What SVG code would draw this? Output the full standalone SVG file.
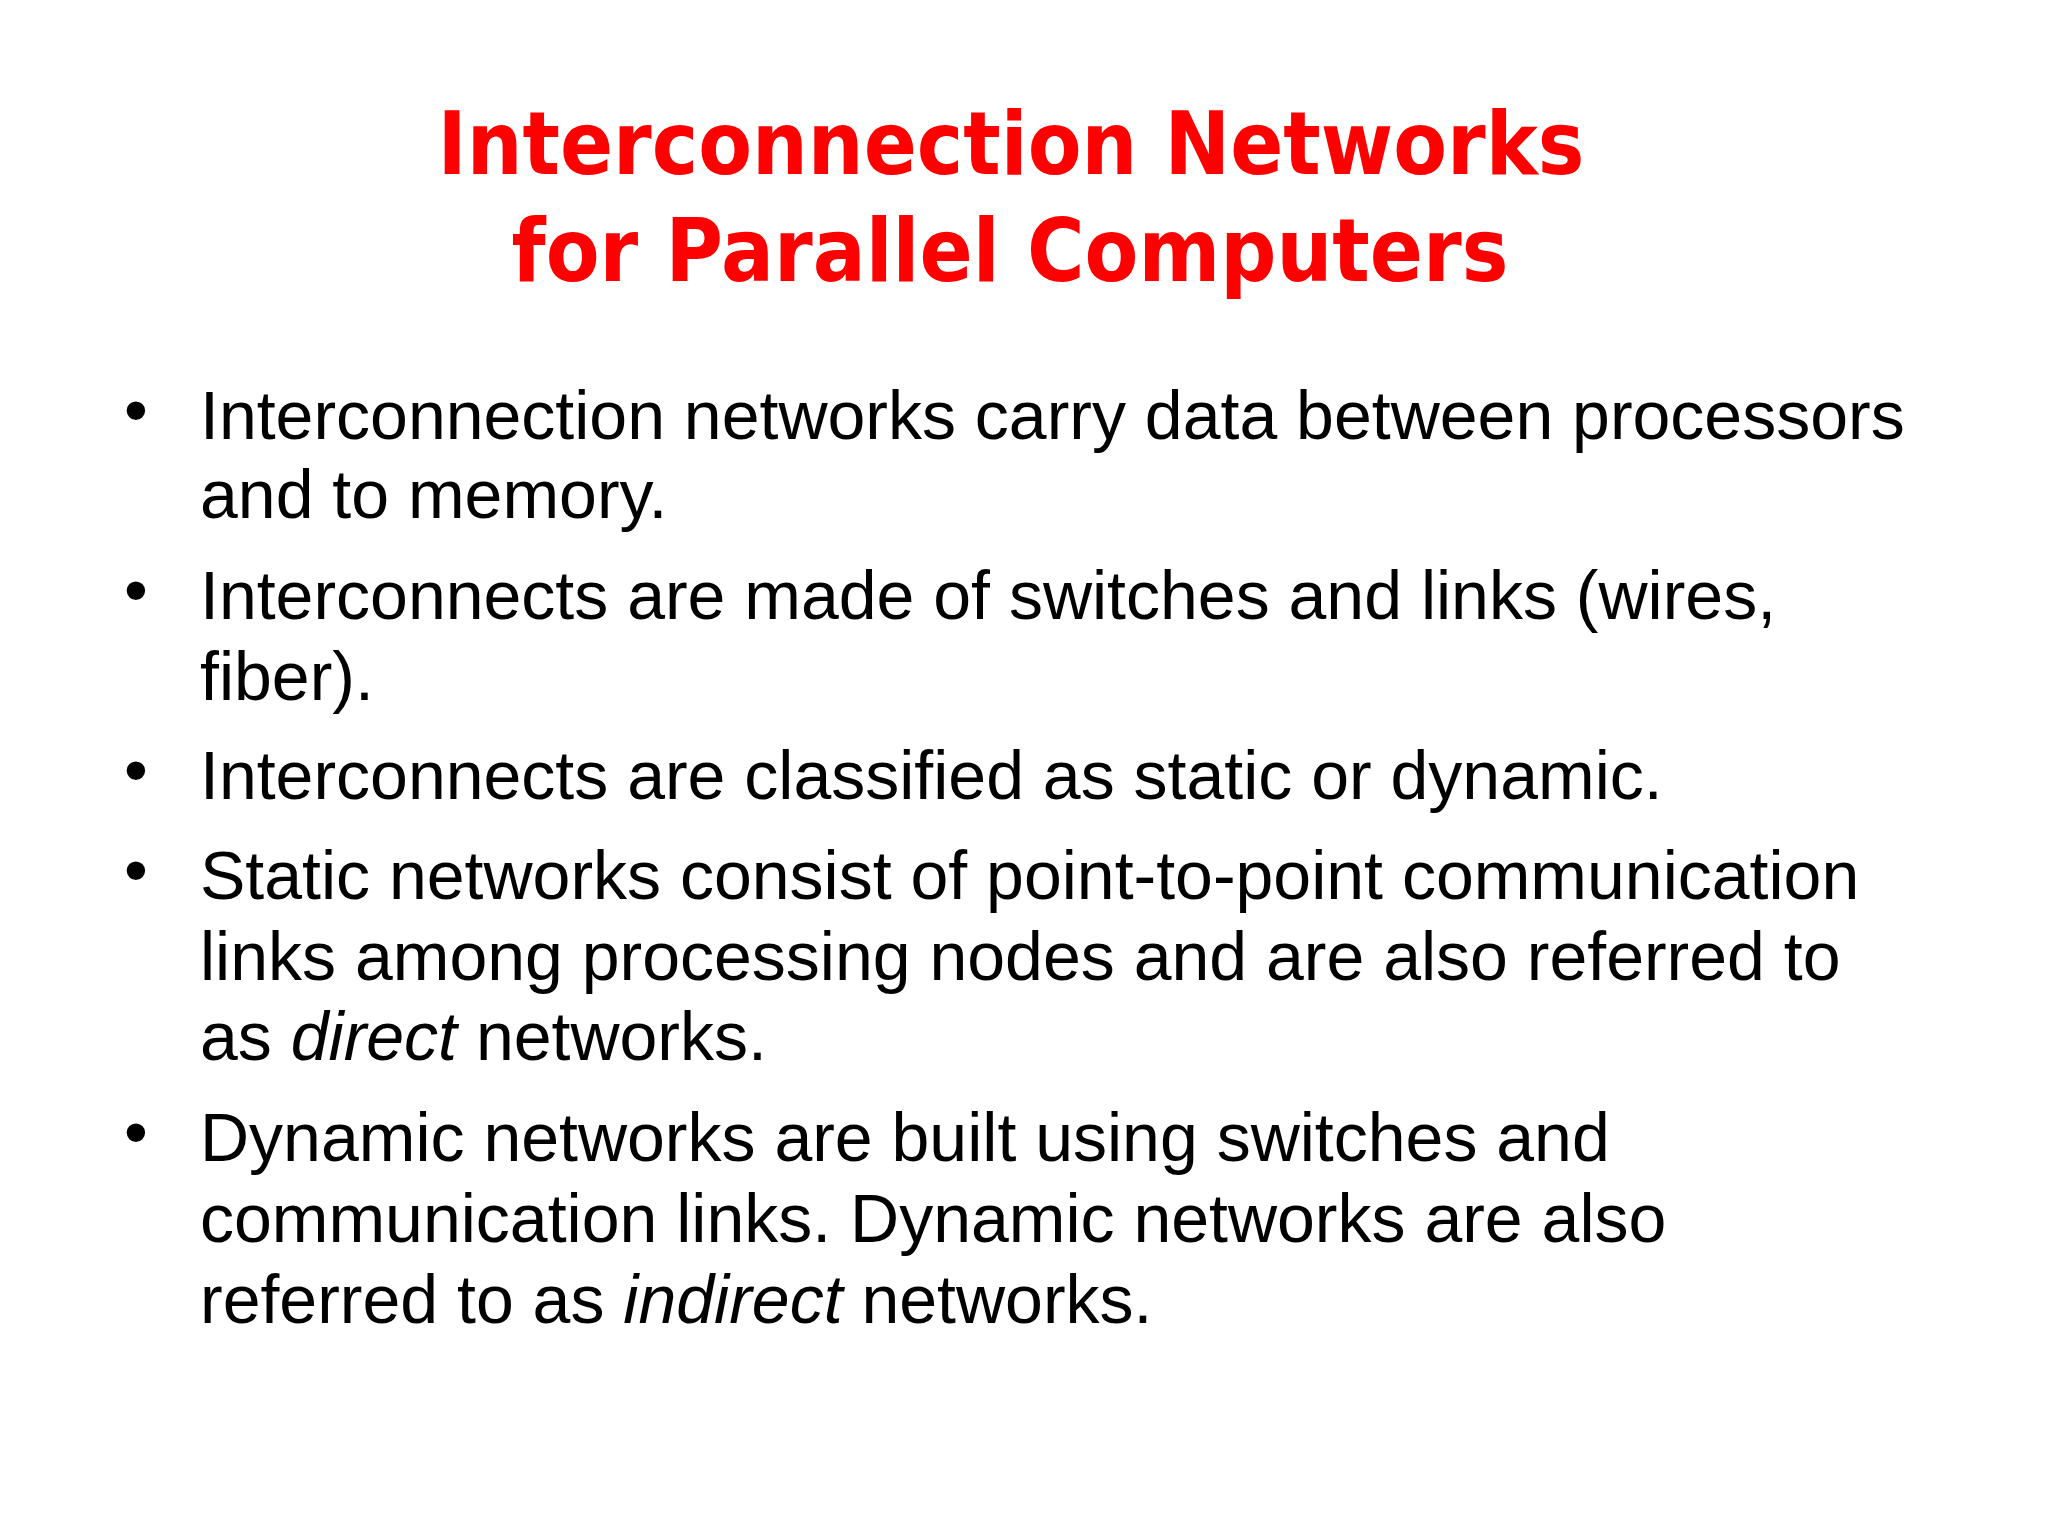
<svg xmlns="http://www.w3.org/2000/svg" width="2048" height="1536" viewBox="0 0 2048 1536">
<style>
.t{font-family:"DejaVu Sans",Verdana,sans-serif;font-weight:bold;fill:#ff0000;font-size:88px;text-anchor:middle}
.b{font-family:"Liberation Sans",Arial,sans-serif;font-size:68px;fill:#000}
</style>
<rect width="2048" height="1536" fill="#fff"/>
<g id="title">
<text class="t" x="1011" y="174" textLength="1147" lengthAdjust="spacingAndGlyphs">Interconnection Networks</text>
<text class="t" x="1010" y="281" textLength="997" lengthAdjust="spacingAndGlyphs">for Parallel Computers</text>
</g>
<g id="bullets" class="b">
<text x="124" y="433">•</text>
<text x="200" y="439">Interconnection networks carry data between processors</text>
<text x="200" y="518">and to memory.</text>
<text x="124" y="613">•</text>
<text x="200" y="619">Interconnects are made of switches and links (wires,</text>
<text x="200" y="700">fiber).</text>
<text x="124" y="793">•</text>
<text x="200" y="799">Interconnects are classified as static or dynamic.</text>
<text x="124" y="893">•</text>
<text x="200" y="899">Static networks consist of point-to-point communication</text>
<text x="200" y="980">links among processing nodes and are also referred to</text>
<text x="200" y="1060">as <tspan font-style="italic">direct</tspan> networks.</text>
<text x="124" y="1155">•</text>
<text x="200" y="1161">Dynamic networks are built using switches and</text>
<text x="200" y="1242">communication links. Dynamic networks are also</text>
<text x="200" y="1323">referred to as <tspan font-style="italic">indirect</tspan> networks.</text>
</g>
</svg>
